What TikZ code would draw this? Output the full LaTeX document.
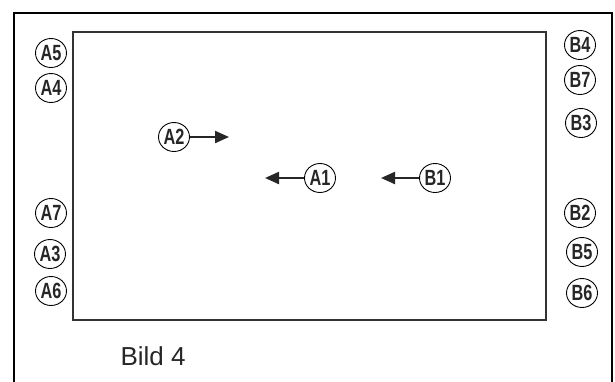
\documentclass[tikz,border=0pt]{standalone}
\usepackage{fontspec}
\setmainfont{Liberation Sans}
\newfontfamily\lblfont[FakeStretch=0.74]{Liberation Sans}
\usetikzlibrary{arrows.meta,shapes.geometric}
\begin{document}
\begin{tikzpicture}[x=1pt,y=-1pt,
  lbl/.style={ellipse,draw=black,line width=0.9pt,minimum width=31pt,minimum height=29pt,inner sep=0pt,
    font=\lblfont\bfseries\fontsize{22}{22}\selectfont,text=black!85},
  arr/.style={line width=2.2pt,draw=black!85,-{Triangle[length=14pt,width=12pt]}}]
\useasboundingbox (0,0) rectangle (615,381);
% outer frame
\draw[line width=2.6pt,black] (14,383) -- (14,13) -- (612,13) -- (612,383);
% inner rectangle
\draw[line width=2pt,black!80] (73,32) rectangle (546,320);
% left labels
\node[lbl] (A5) at (51,53) {A5};
\node[lbl] (A4) at (51,88) {A4};
\node[lbl] (A7) at (51,213) {A7};
\node[lbl] (A3) at (50,254) {A3};
\node[lbl] (A6) at (51,291) {A6};
% right labels
\node[lbl] (B4) at (580,45) {B4};
\node[lbl] (B7) at (580,80) {B7};
\node[lbl] (B3) at (581,123) {B3};
\node[lbl] (B2) at (580,213) {B2};
\node[lbl] (B5) at (582,252) {B5};
\node[lbl] (B6) at (582,293) {B6};
% inner labels
\node[lbl] (A2) at (174,137) {A2};
\node[lbl] (A1) at (320,178) {A1};
\node[lbl] (B1) at (435,178) {B1};
\coordinate (a2end) at (229,137);
\coordinate (a1end) at (265,178);
\coordinate (b1end) at (381,178);
\draw[arr] (A2) -- (a2end);
\draw[arr] (A1) -- (a1end);
\draw[arr] (B1) -- (b1end);
% caption
\node[anchor=west,font=\fontsize{26}{26}\selectfont,text=black!85] (cap) at (117,356) {Bild 4};
\end{tikzpicture}
\end{document}
